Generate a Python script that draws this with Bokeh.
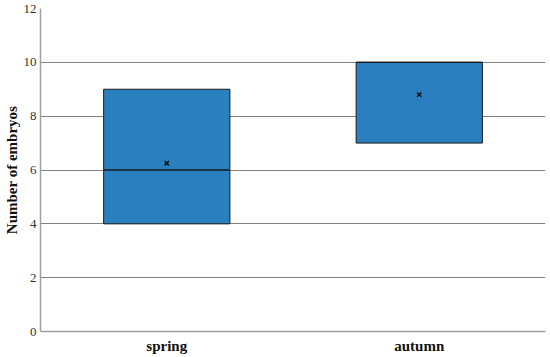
from bokeh.plotting import figure
from bokeh.models import FactorRange, Range1d, ColumnDataSource, FixedTicker
from bokeh.embed import file_html
from bokeh.resources import INLINE

seasons = ["spring", "autumn"]
q1 = [4, 7]
q3 = [9, 10]
median = [6, 10]
mean = [6.25, 8.8]
y_ticks = [0, 2, 4, 6, 8, 10, 12]

src = ColumnDataSource(dict(season=seasons, q1=q1, q3=q3, median=median, mean=mean))

p = figure(x_range=FactorRange(factors=seasons, range_padding=0), y_range=Range1d(0, 12),
           width=550, height=357, output_backend="svg", toolbar_location=None,
           min_border_left=40, min_border_right=5, min_border_top=8, min_border_bottom=26)
p.outline_line_color = None
p.background_fill_color = "white"

p.vbar(x="season", width=0.5, bottom="q1", top="q3", source=src,
       fill_color="#2a7fbf", line_color="#1a1a1a", line_width=1)
p.rect(x="season", y="median", width=0.5, height=0.0001, source=src,
       fill_color=None, line_color="#1a1a1a", line_width=1)
p.scatter(x="season", y="mean", marker="x", size=6, line_color="#111111",
          line_width=1.5, source=src)

p.yaxis.ticker = FixedTicker(ticks=y_ticks)
p.ygrid.ticker = FixedTicker(ticks=y_ticks)
p.ygrid.grid_line_color = "#808080"
p.ygrid.grid_line_width = 1
p.xgrid.grid_line_color = None

xa = p.xaxis[0]
ya = p.yaxis[0]
for ax in (xa, ya):
    ax.axis_line_color = "#a0a0a0"
    ax.axis_line_width = 1.5
    ax.major_tick_line_color = None
    ax.minor_tick_line_color = None
    ax.major_tick_out = 0
    ax.major_tick_in = 0
    ax.major_label_text_font = "Liberation Serif"

ya.major_label_text_font_size = "13px"
ya.major_label_text_color = "#333333"
ya.major_label_standoff = 4
ya.axis_label = "Number of embryos"
ya.axis_label_text_font = "Liberation Serif"
ya.axis_label_text_font_style = "bold"
ya.axis_label_text_font_size = "15px"
ya.axis_label_text_color = "#111111"
ya.axis_label_standoff = 1

xa.major_label_text_font_size = "15px"
xa.major_label_text_font_style = "bold"
xa.major_label_text_color = "#111111"
xa.major_label_standoff = 6
xa.axis_label_standoff = 0

open("out.html", "w").write(file_html(p, INLINE))
